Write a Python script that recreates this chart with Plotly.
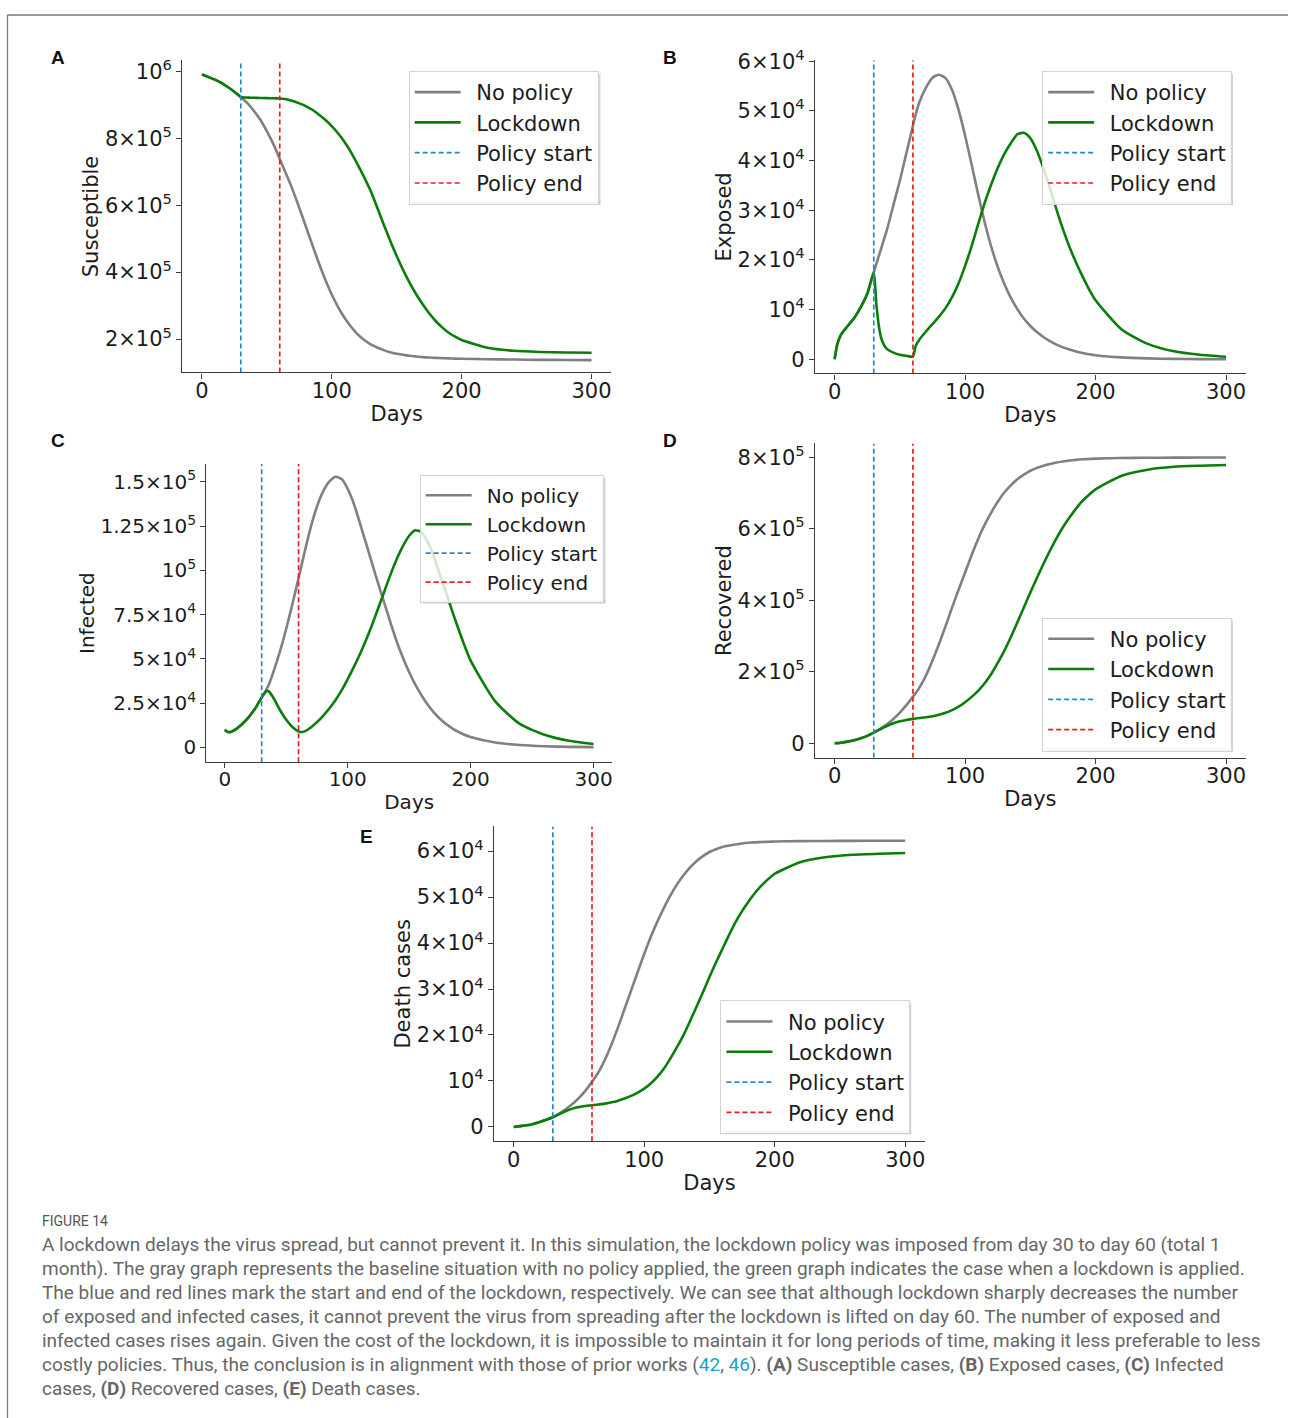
import plotly.graph_objects as go

# ---------------------------------------------------------------- data
days = [0, 2, 5, 10, 15, 20, 25, 30, 32, 34, 36, 40, 45, 50, 55, 60, 62, 65, 70,
        75, 80, 85, 90, 95, 100, 105, 110, 115, 120, 125, 130, 135, 140, 145,
        150, 155, 160, 165, 170, 175, 180, 185, 190, 195, 200, 220, 240, 260,
        280, 300]

susceptible_no_policy = [
    990000, 987500, 983000, 975000, 965000, 953000, 939000, 923000, 916000,
    909000, 901000, 882000, 855000, 821000, 783000, 738000, 719000, 692000,
    645000, 592000, 537000, 482000, 428000, 378000, 333000, 295000, 263000,
    236000, 214000, 197000, 184000, 175000, 167000, 161000, 156000, 153000,
    150000, 148000, 146000, 144800, 143800, 143000, 142300, 141700, 141200,
    139800, 138800, 138000, 137500, 137000]
susceptible_lockdown = [
    990000, 987500, 983000, 975000, 965000, 953000, 939000, 923000, 921800,
    921400, 921100, 920700, 920200, 919700, 919200, 918600, 918100, 916500,
    911000, 904000, 896000, 885000, 871000, 855000, 836000, 814000, 788000,
    757000, 721000, 683000, 642000, 593000, 542000, 494000, 448000, 406000,
    368000, 334000, 304000, 277000, 254000, 235000, 219000, 207000, 197000,
    174000, 165000, 161500, 160000, 159000]

exposed_no_policy = [
    0, 3000, 5000, 6700, 8300, 10500, 13200, 17500, 19200, 20900, 22600,
    26000, 31000, 36000, 41500, 47000, 49200, 51800, 54700, 56700, 57300,
    56600, 54200, 50200, 45000, 39200, 33200, 27600, 22700, 18600, 15200,
    12400, 10100, 8200, 6700, 5500, 4500, 3650, 2950, 2400, 1950, 1580, 1280,
    1030, 830, 380, 180, 80, 40, 20]
exposed_lockdown = [
    0, 3000, 5000, 6700, 8300, 10500, 13200, 17500, 11000, 6500, 4000, 2100,
    1350, 900, 700, 550, 2600, 4000, 5600, 7100, 8600, 10300, 12500, 15300,
    18800, 22800, 27200, 31500, 35200, 38500, 41300, 43500, 45300, 45600,
    44500, 42000, 38500, 34500, 30200, 26200, 22600, 19500, 16700, 14100,
    11900, 6000, 3100, 1600, 900, 500]

infected_no_policy = [
    10000, 8900, 8800, 10800, 13800, 17600, 22300, 28200, 30500, 33000,
    35700, 43500, 54500, 67000, 81000, 95500, 101500, 110500, 124500, 136000,
    144500, 150000, 152800, 151500, 146000, 137500, 126500, 115000, 103500,
    92000, 81000, 70000, 59500, 50500, 42500, 35500, 29500, 24200, 19800,
    16200, 13200, 10800, 8800, 7200, 5900, 2800, 1400, 700, 350, 200]
infected_lockdown = [
    10000, 8900, 8800, 10800, 13800, 17600, 22300, 28200, 30300, 31900,
    31500, 27500, 21000, 15600, 11600, 9100, 8700, 9100, 11300, 14300, 17900,
    22000, 26700, 32200, 38600, 45500, 52800, 60800, 69500, 79000, 88500,
    98000, 106500, 113800, 119500, 122600, 121500, 116000, 108000, 97500,
    87500, 77000, 67000, 57500, 49000, 26000, 13300, 7200, 3800, 2000]

recovered_no_policy = [
    0, 600, 1800, 4700, 8800, 14000, 21000, 30000, 34000, 38500, 43000,
    53000, 68000, 86000, 107000, 130000, 140000, 156000, 190000, 232000,
    278000, 328000, 380000, 430000, 478000, 527000, 572000, 612000, 646000,
    676000, 702000, 722000, 739000, 752000, 763000, 771000, 777000, 782000,
    786000, 789000, 791500, 793500, 795000, 796000, 797000, 798500, 799300,
    799700, 799900, 800000]
recovered_lockdown = [
    0, 600, 1800, 4700, 8800, 14000, 21000, 30000, 34000, 38000, 41500,
    48500, 56000, 61500, 65500, 68500, 69500, 70800, 73000, 76000, 80000,
    85500, 93000, 102500, 115000, 130000, 147000, 168000, 194000, 225000,
    259000, 297000, 338000, 380000, 422000, 463000, 502000, 539000, 574000,
    605000, 632000, 657000, 679000, 696000, 711000, 749000, 766000, 774000,
    777000, 779000]

deaths_no_policy = [
    0, 70, 180, 360, 650, 1090, 1550, 2100, 2400, 2750, 3100, 3900, 5000,
    6300, 7900, 9800, 10600, 11900, 14700, 18000, 21700, 25700, 29700, 33700,
    37600, 41300, 44600, 47600, 50300, 52700, 54700, 56400, 57800, 58900,
    59800, 60400, 60900, 61200, 61450, 61650, 61800, 61900, 61980, 62040,
    62080, 62170, 62210, 62230, 62240, 62250]
deaths_lockdown = [
    0, 70, 180, 360, 650, 1090, 1550, 2100, 2380, 2650, 2920, 3450, 3980,
    4330, 4560, 4710, 4780, 4880, 5070, 5350, 5720, 6170, 6740, 7450, 8330,
    9450, 10870, 12650, 14860, 17300, 19930, 22950, 26090, 29300, 32600,
    35750, 38770, 41750, 44570, 46950, 49060, 50950, 52540, 53900, 55070,
    57610, 58700, 59200, 59420, 59570]

policy_start_day = 30
policy_end_day = 60

x_ticks = [0, 100, 200, 300]
sus_ticks = [200000, 400000, 600000, 800000, 1000000]
sus_labels = ["2×10<sup>5</sup>", "4×10<sup>5</sup>", "6×10<sup>5</sup>",
              "8×10<sup>5</sup>", "10<sup>6</sup>"]
exp_ticks = [0, 10000, 20000, 30000, 40000, 50000, 60000]
exp_labels = ["0", "10<sup>4</sup>", "2×10<sup>4</sup>", "3×10<sup>4</sup>",
              "4×10<sup>4</sup>", "5×10<sup>4</sup>", "6×10<sup>4</sup>"]
inf_ticks = [0, 25000, 50000, 75000, 100000, 125000, 150000]
inf_labels = ["0", "2.5×10<sup>4</sup>", "5×10<sup>4</sup>",
              "7.5×10<sup>4</sup>", "10<sup>5</sup>", "1.25×10<sup>5</sup>",
              "1.5×10<sup>5</sup>"]
rec_ticks = [0, 200000, 400000, 600000, 800000]
rec_labels = ["0", "2×10<sup>5</sup>", "4×10<sup>5</sup>", "6×10<sup>5</sup>",
              "8×10<sup>5</sup>"]
death_ticks = [0, 10000, 20000, 30000, 40000, 50000, 60000]
death_labels = exp_labels

# ---------------------------------------------------------------- layout
W, H = 1289, 1418
TOP = 13        # band above the figure on the page
SQUEEZE = 0.9908
FONT = "DejaVu Sans"
INK = "#1c1c1c"
SPINE = "#3d3d3d"


def fx(px):
    return px / W


def fy(py):
    return 1 - ((py - TOP) / SQUEEZE) / H


panels = [
    dict(letter="A", letter_xy=(58, 57), ylabel="Susceptible",
         none=susceptible_no_policy, lock=susceptible_lockdown,
         box=(182.5, 59.5, 611.5, 371.7), yrange=[100300, 1032200],
         yt=sus_ticks, yl=sus_labels, legend_box=(409, 70, 189, 131), fs=21),
    dict(letter="B", letter_xy=(671, 57), ylabel="Exposed",
         none=exposed_no_policy, lock=exposed_lockdown,
         box=(815.7, 59.3, 1246.6, 372.7), yrange=[-2850, 60200],
         yt=exp_ticks, yl=exp_labels, legend_box=(1043, 70, 188, 131), fs=21),
    dict(letter="C", letter_xy=(58, 440), ylabel="Infected",
         none=infected_no_policy, lock=infected_lockdown,
         box=(206.5, 463.3, 612.5, 761.7), yrange=[-8300, 160000],
         yt=inf_ticks, yl=inf_labels, legend_box=(420, 474, 183, 126), fs=20),
    dict(letter="D", letter_xy=(671, 440), ylabel="Recovered",
         none=recovered_no_policy, lock=recovered_lockdown,
         box=(815.7, 442.7, 1246.6, 757.3), yrange=[-40500, 839500],
         yt=rec_ticks, yl=rec_labels, legend_box=(1043, 617, 188, 131), fs=21),
    dict(letter="E", letter_xy=(367, 836), ylabel="Death cases",
         none=deaths_no_policy, lock=deaths_lockdown,
         box=(494.5, 826.0, 925.5, 1141.0), yrange=[-3112, 65360],
         yt=death_ticks, yl=death_labels, legend_box=(721, 1000, 188, 131),
         fs=21),
]

fig = go.Figure()
layout = dict(
    width=W, height=H, margin=dict(l=0, r=0, t=0, b=0),
    paper_bgcolor="white", plot_bgcolor="white",
    font=dict(family=FONT, color=INK), showlegend=True,
    annotations=[], shapes=[],
)


def rect(x0, y0, x1, y1, color):
    return dict(type="rect", xref="paper", yref="paper",
                x0=fx(x0), x1=fx(x1), y0=fy(y1), y1=fy(y0),
                fillcolor=color, line=dict(width=0), layer="below")


for i, p in enumerate(panels, start=1):
    sfx = "" if i == 1 else str(i)
    xa, ya = "x" + sfx, "y" + sfx
    leg = "legend" + sfx
    x0, y0, x1, y1 = p["box"]
    fs = p["fs"]

    fig.add_trace(go.Scatter(
        x=days, y=p["none"], mode="lines", name="\u2002No policy",
        line=dict(color="#808080", width=2.6, shape="spline", smoothing=0.6),
        xaxis=xa, yaxis=ya, legend=leg))
    fig.add_trace(go.Scatter(
        x=days, y=p["lock"], mode="lines", name="\u2002Lockdown",
        line=dict(color="#0a7d0a", width=2.6, shape="spline", smoothing=0.6),
        xaxis=xa, yaxis=ya, legend=leg))
    fig.add_trace(go.Scatter(
        x=[policy_start_day, policy_start_day], y=p["yrange"], mode="lines",
        name="\u2002Policy start",
        line=dict(color="#2b86c4", width=1.7, dash="5px,3px"),
        xaxis=xa, yaxis=ya, legend=leg))
    fig.add_trace(go.Scatter(
        x=[policy_end_day, policy_end_day], y=p["yrange"], mode="lines",
        name="\u2002Policy end",
        line=dict(color="#ee1c1c", width=1.7, dash="5px,3px"),
        xaxis=xa, yaxis=ya, legend=leg))

    axis_common = dict(
        showline=True, linecolor=SPINE, linewidth=1.4, showgrid=False,
        zeroline=False, ticks="outside", ticklen=5, tickwidth=1.2,
        tickcolor=SPINE, tickfont=dict(family=FONT, size=fs, color=INK),
    )
    layout["xaxis" + sfx] = dict(
        axis_common, domain=[fx(x0), fx(x1)], range=[-15, 315],
        tickvals=x_ticks, anchor=ya, ticklabelstandoff=-6,
        title=dict(text="Days", font=dict(family=FONT, size=fs, color=INK),
                   standoff=4),
    )
    layout["yaxis" + sfx] = dict(
        axis_common, domain=[fy(y1), fy(y0)], range=p["yrange"],
        tickvals=p["yt"], ticktext=p["yl"], anchor=xa,
        title=dict(text=p["ylabel"],
                   font=dict(family=FONT, size=fs, color=INK), standoff=0),
    )
    lx, ly, lw, lh = p["legend_box"]
    layout[leg] = dict(
        x=fx(lx), y=fy(ly), xanchor="left", yanchor="top",
        bgcolor="rgba(255,255,255,0.82)", bordercolor="#d3d3d3",
        borderwidth=1, font=dict(family=FONT, size=fs, color=INK),
        itemwidth=46, tracegroupgap=0,
    )
    # soft drop shadow along the legend's lower and right edges
    layout["shapes"].append(rect(lx + 3, ly + lh, lx + lw + 3, ly + lh + 3,
                                 "rgba(0,0,0,0.22)"))
    layout["shapes"].append(rect(lx + lw, ly + 3, lx + lw + 3, ly + lh,
                                 "rgba(0,0,0,0.16)"))
    lxl, lyl = p["letter_xy"]
    layout["annotations"].append(dict(
        text="<b>%s</b>" % p["letter"], x=fx(lxl), y=fy(lyl),
        xref="paper", yref="paper", showarrow=False, xanchor="center",
        yanchor="middle",
        font=dict(family="Liberation Sans", size=19, color="#111")))

# ---------------------------------------------------------------- caption
cap_lines = [
    "A lockdown delays the virus spread, but cannot prevent it. In this simulation, the lockdown policy was imposed from day 30 to day 60 (total 1",
    "month). The gray graph represents the baseline situation with no policy applied, the green graph indicates the case when a lockdown is applied.",
    "The blue and red lines mark the start and end of the lockdown, respectively. We can see that although lockdown sharply decreases the number",
    "of exposed and infected cases, it cannot prevent the virus from spreading after the lockdown is lifted on day 60. The number of exposed and",
    "infected cases rises again. Given the cost of the lockdown, it is impossible to maintain it for long periods of time, making it less preferable to less",
    "costly policies. Thus, the conclusion is in alignment with those of prior works (<span style='color:#1ba3c6'>42</span>, <span style='color:#1ba3c6'>46</span>). <b>(A)</b> Susceptible cases, <b>(B)</b> Exposed cases, <b>(C)</b> Infected",
    "cases, <b>(D)</b> Recovered cases, <b>(E)</b> Death cases.",
]
layout["annotations"].append(dict(
    text="FIGURE 14", x=fx(40), y=fy(1221), xref="paper", yref="paper",
    showarrow=False, xanchor="left", yanchor="middle",
    font=dict(family="Roboto", size=14, color="#555")))
for k, line in enumerate(cap_lines):
    layout["annotations"].append(dict(
        text=line, x=fx(40), y=fy(1244 + 24 * k), xref="paper",
        yref="paper", showarrow=False, xanchor="left", yanchor="middle",
        font=dict(family="Roboto", size=19, color="#666")))

# page frame: top and left rules only
frame_top = 1 - 1.0 / H
layout["shapes"].append(dict(
    type="line", xref="paper", yref="paper", x0=fx(7.5), x1=1,
    y0=frame_top, y1=frame_top, line=dict(color="#7a7a7a", width=1.3)))
layout["shapes"].append(dict(
    type="line", xref="paper", yref="paper", x0=fx(7.5), x1=fx(7.5),
    y0=0, y1=frame_top, line=dict(color="#7a7a7a", width=1.3)))

fig.update_layout(**layout)
fig.write_html("out.html")
